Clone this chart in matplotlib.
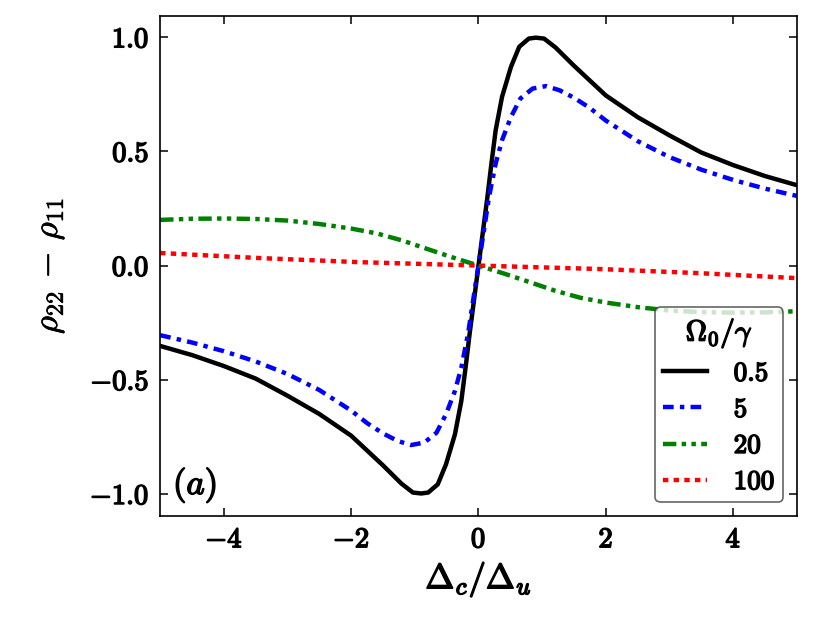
import matplotlib
matplotlib.use('Agg')
import matplotlib.pyplot as plt
import matplotlib.patheffects as pe
from matplotlib.ticker import FuncFormatter, MultipleLocator

plt.rcParams['mathtext.fontset'] = 'cm'
plt.rcParams['font.family'] = 'serif'
plt.rcParams['font.serif'] = ['cmr10', 'DejaVu Serif']
plt.rcParams['axes.formatter.use_mathtext'] = True

# --- 데이터 ---
# Omega0/gamma = 0.5
x_black = [-5.0, -4.5, -4.0, -3.5, -3.0, -2.5, -2.0, -1.75, -1.5, -1.21, -1.03, -0.9, -0.79, -0.64, -0.51,
           -0.37, -0.27, -0.2, -0.14, -0.07, 0.0,
           0.07, 0.14, 0.2, 0.27, 0.37, 0.51, 0.64, 0.79, 0.9, 1.03, 1.21, 1.5, 1.75, 2.0, 2.5, 3.0, 3.5,
           4.0, 4.5, 5.0]
y_black = [-0.352, -0.392, -0.44, -0.495, -0.57, -0.65, -0.745, -0.81, -0.875, -0.955, -0.994, -0.998, -0.994,
           -0.958, -0.87, -0.739, -0.593, -0.44, -0.30, -0.15, 0.0,
           0.15, 0.30, 0.44, 0.593, 0.739, 0.87, 0.958, 0.994, 0.998, 0.994, 0.955, 0.875, 0.81, 0.745, 0.65,
           0.57, 0.495, 0.44, 0.392, 0.352]

# Omega0/gamma = 5
x_blue = [-5.0, -4.5, -4.0, -3.5, -3.0, -2.5, -2.0, -1.75, -1.5, -1.27, -1.06, -0.85, -0.66, -0.51, -0.37,
          -0.27, -0.165, -0.086, 0.0,
          0.086, 0.165, 0.27, 0.37, 0.51, 0.66, 0.85, 1.06, 1.27, 1.5, 1.75, 2.0, 2.5, 3.0, 3.5, 4.0, 4.5, 5.0]
y_blue = [-0.305, -0.337, -0.375, -0.42, -0.475, -0.545, -0.635, -0.69, -0.735, -0.768, -0.786, -0.775,
          -0.732, -0.651, -0.549, -0.447, -0.30, -0.155, 0.0,
          0.155, 0.30, 0.447, 0.549, 0.651, 0.732, 0.775, 0.786, 0.768, 0.735, 0.69, 0.635, 0.545, 0.475,
          0.42, 0.375, 0.337, 0.305]

# Omega0/gamma = 20
x_green = [-5.0, -4.5, -4.0, -3.5, -3.0, -2.5, -2.0, -1.6, -1.2, -0.83, -0.4, 0.0,
           0.4, 0.83, 1.2, 1.6, 2.0, 2.5, 3.0, 3.5, 4.0, 4.5, 5.0]
y_green = [0.200, 0.205, 0.206, 0.204, 0.197, 0.182, 0.162, 0.141, 0.110, 0.075, 0.035, 0.0,
           -0.035, -0.075, -0.110, -0.141, -0.162, -0.182, -0.197, -0.204, -0.206, -0.205, -0.200]

# Omega0/gamma = 100
x_red = [-5.0, -3.45, -1.88, 0.0, 1.88, 3.45, 5.0]
y_red = [0.055, 0.033, 0.015, 0.0, -0.015, -0.033, -0.055]

labels = ['0.5', '5', '20', '100']
colors = ['black', 'blue', 'green', 'red']

# 굵은 글씨 효과 (CM 폰트를 굵게 보이도록)
bold = [pe.withStroke(linewidth=1.1, foreground='black')]

fig = plt.figure(figsize=(8.3, 6.23), dpi=100)
ax = fig.add_axes([0.193, 0.172, 0.767, 0.802])

lw = 3.2
ax.plot(x_black, y_black, color=colors[0], lw=lw, ls='-', solid_joinstyle='round',
        label=r'$\mathbf{%s}$' % labels[0])
ax.plot(x_blue, y_blue, color=colors[1], lw=lw, ls=(0, (2.4, 1.4, 1.0, 1.4)),
        label=r'$\mathbf{%s}$' % labels[1])
ax.plot(x_green, y_green, color=colors[2], lw=lw, ls=(0, (3.0, 1.2, 1.0, 1.2, 1.0, 1.2)),
        label=r'$\mathbf{%s}$' % labels[2])
ax.plot(x_red, y_red, color=colors[3], lw=lw, ls=(0, (1.2, 1.2)),
        label=r'$\mathbf{%s}$' % labels[3])

ax.set_xlim(-5, 5)
ax.set_ylim(-1.096, 1.092)
ax.xaxis.set_major_locator(MultipleLocator(2))
ax.yaxis.set_major_locator(MultipleLocator(0.5))
ax.xaxis.set_major_formatter(FuncFormatter(lambda v, p: r'$\mathbf{%d}$' % round(v)))
ax.yaxis.set_major_formatter(FuncFormatter(lambda v, p: r'$\mathbf{%.1f}$' % v))

ax.tick_params(direction='in', top=True, right=True, length=6, width=1.1, labelsize=20.5, pad=8)
for lab in ax.get_xticklabels() + ax.get_yticklabels():
    lab.set_path_effects(bold)
for s in ax.spines.values():
    s.set_linewidth(1.2)

ax.set_xlabel(r'$\mathbf{\Delta}_c/\mathbf{\Delta}_u$', fontsize=25, labelpad=5, path_effects=bold)
ax.set_ylabel(r'$\rho_{22}\,-\,\rho_{11}$', fontsize=25, labelpad=17,
              path_effects=[pe.withStroke(linewidth=0.5, foreground='black')])

ax.text(-4.8, -1.0, r'$(a)$', fontsize=25, path_effects=bold)

leg = ax.legend(loc='lower right', title=r'$\mathbf{\Omega}_0/\gamma$', fontsize=19.5, title_fontsize=21,
                handlelength=1.6, framealpha=0.8, edgecolor='0.25', fancybox=True,
                borderaxespad=0.5, labelspacing=0.45, handletextpad=1.0, borderpad=0.3)
leg.get_frame().set_linewidth(1.2)
leg.get_title().set_path_effects(bold)
for t in leg.get_texts():
    t.set_path_effects(bold)

plt.savefig('out.png', dpi=100)
